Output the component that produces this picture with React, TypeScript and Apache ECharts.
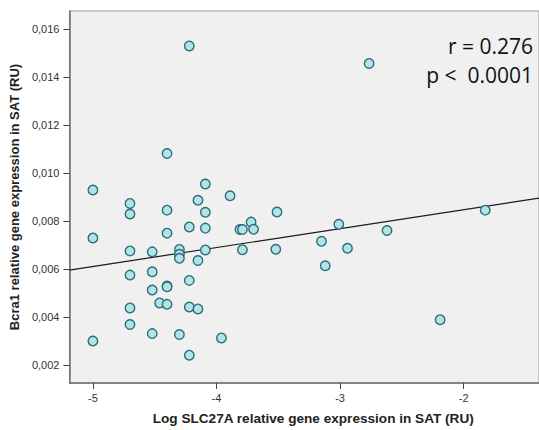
import React, { useEffect, useRef } from "react";
import * as echarts from "echarts";

const xValues = [
  -4.22, -2.765, -4.4, -5.0, -4.09, -3.89, -4.15, -4.7, -4.7, -4.4,
  -4.09, -4.22, -4.09, -4.4, -3.81, -3.79, -3.72, -3.7, -5.0, -4.7,
  -4.52, -4.3, -4.3, -4.3, -4.09, -3.79, -4.15, -4.7, -4.52, -4.22,
  -4.4, -4.4, -4.52, -4.46, -4.4, -4.7, -4.22, -4.15, -4.7, -5.0,
  -4.52, -4.3, -3.96, -4.22, -3.51, -3.52, -3.01, -3.15, -2.94, -3.12,
  -2.62, -1.825, -2.19,
];
const yValues = [
  0.0153, 0.01457, 0.01081, 0.00929, 0.00954, 0.00905, 0.00886, 0.00873, 0.00829, 0.00845,
  0.00836, 0.00775, 0.0077, 0.00749, 0.00764, 0.00764, 0.00795, 0.00765, 0.00729, 0.00675,
  0.00671, 0.00681, 0.00661, 0.00644, 0.00679, 0.0068, 0.00635, 0.00574, 0.00588, 0.00552,
  0.00529, 0.00525, 0.00512, 0.00458, 0.00452, 0.00437, 0.00441, 0.00433, 0.00368, 0.00299,
  0.0033, 0.00326, 0.00312, 0.0024, 0.00837, 0.00682, 0.00786, 0.00715, 0.00686, 0.00613,
  0.0076, 0.00845, 0.00388,
];
const xTicks = [-5, -4, -3, -2];
const yTicks = [0.002, 0.004, 0.006, 0.008, 0.01, 0.012, 0.014, 0.016];
const fitLineX = [-5.19, -1.39];
const fitLineY = [0.00595, 0.00895];
const statLines = ["r = 0.276", "p <  0.0001"];
const xName = "Log SLC27A relative gene expression in SAT (RU)";
const yName = "Bcra1 relative gene expression in SAT (RU)";

export default function App() {
  const ref = useRef<HTMLDivElement>(null);
  useEffect(() => {
    if (!ref.current) return;
    const chart = echarts.init(ref.current, null, { renderer: "svg" });
    const font = "'Liberation Sans', Arial, sans-serif";
    chart.setOption({
      animation: false,
      backgroundColor: "#ffffff",
      grid: {
        left: 67,
        top: 11,
        right: 0,
        bottom: 43,
        show: true,
        backgroundColor: "#f0f0f0",
        borderColor: "#9a9a9a",
        borderWidth: 1,
      },
      xAxis: {
        type: "value",
        min: -5.19,
        max: -1.39,
        splitLine: { show: false },
        axisLine: { show: true, lineStyle: { color: "#6e6e6e", width: 1.5 } },
        axisTick: { show: true, customValues: xTicks, length: 6, lineStyle: { color: "#444" } },
        axisLabel: {
          customValues: xTicks,
          fontSize: 11,
          fontFamily: font,
          color: "#333",
          margin: 9,
          formatter: (v: number) => String(v),
        },
        name: xName,
        nameLocation: "middle",
        nameGap: 28,
        nameTextStyle: {
          fontSize: 13.6,
          fontWeight: "bold",
          fontFamily: font,
          color: "#222",
          padding: [0, 0, 0, 18],
        },
      },
      yAxis: {
        type: "value",
        min: 0.00124,
        max: 0.016756,
        splitLine: { show: false },
        axisLine: { show: true, lineStyle: { color: "#6e6e6e", width: 1.5 } },
        axisTick: { show: true, customValues: yTicks, length: 6, lineStyle: { color: "#444" } },
        axisLabel: {
          customValues: yTicks,
          fontSize: 11,
          fontFamily: font,
          color: "#333",
          margin: 10,
          formatter: (v: number) => v.toFixed(3).replace(".", ","),
        },
        name: yName,
        nameLocation: "middle",
        nameGap: 41,
        nameTextStyle: { fontSize: 13, fontWeight: "bold", fontFamily: font, color: "#222" },
      },
      series: [
        {
          type: "line",
          data: fitLineX.map((x, i) => [x, fitLineY[i]]),
          showSymbol: false,
          symbol: "none",
          lineStyle: { color: "#1a1a1a", width: 1.2 },
          z: 1,
          silent: true,
        },
        {
          type: "scatter",
          data: xValues.map((x, i) => [x, yValues[i]]),
          symbol: "circle",
          symbolSize: 9.5,
          itemStyle: { color: "#b2e4e6", borderColor: "#2d6c7c", borderWidth: 1.4, opacity: 1 },
          z: 2,
        },
      ],
      graphic: [
        {
          type: "text",
          right: 6,
          top: 35,
          style: { text: statLines[0], fontSize: 21, fontFamily: "'Open Sans', 'Noto Sans', sans-serif", fill: "#111", textAlign: "right" },
        },
        {
          type: "text",
          right: 6,
          top: 64,
          style: { text: statLines[1], fontSize: 21, fontFamily: "'Open Sans', 'Noto Sans', sans-serif", fill: "#111", textAlign: "right" },
        },
      ],
    });
    return () => chart.dispose();
  }, []);
  return (
    <div
      ref={ref}
      style={{ position: "absolute", left: 0, top: 0, width: 539, height: 430 }}
    />
  );
}
